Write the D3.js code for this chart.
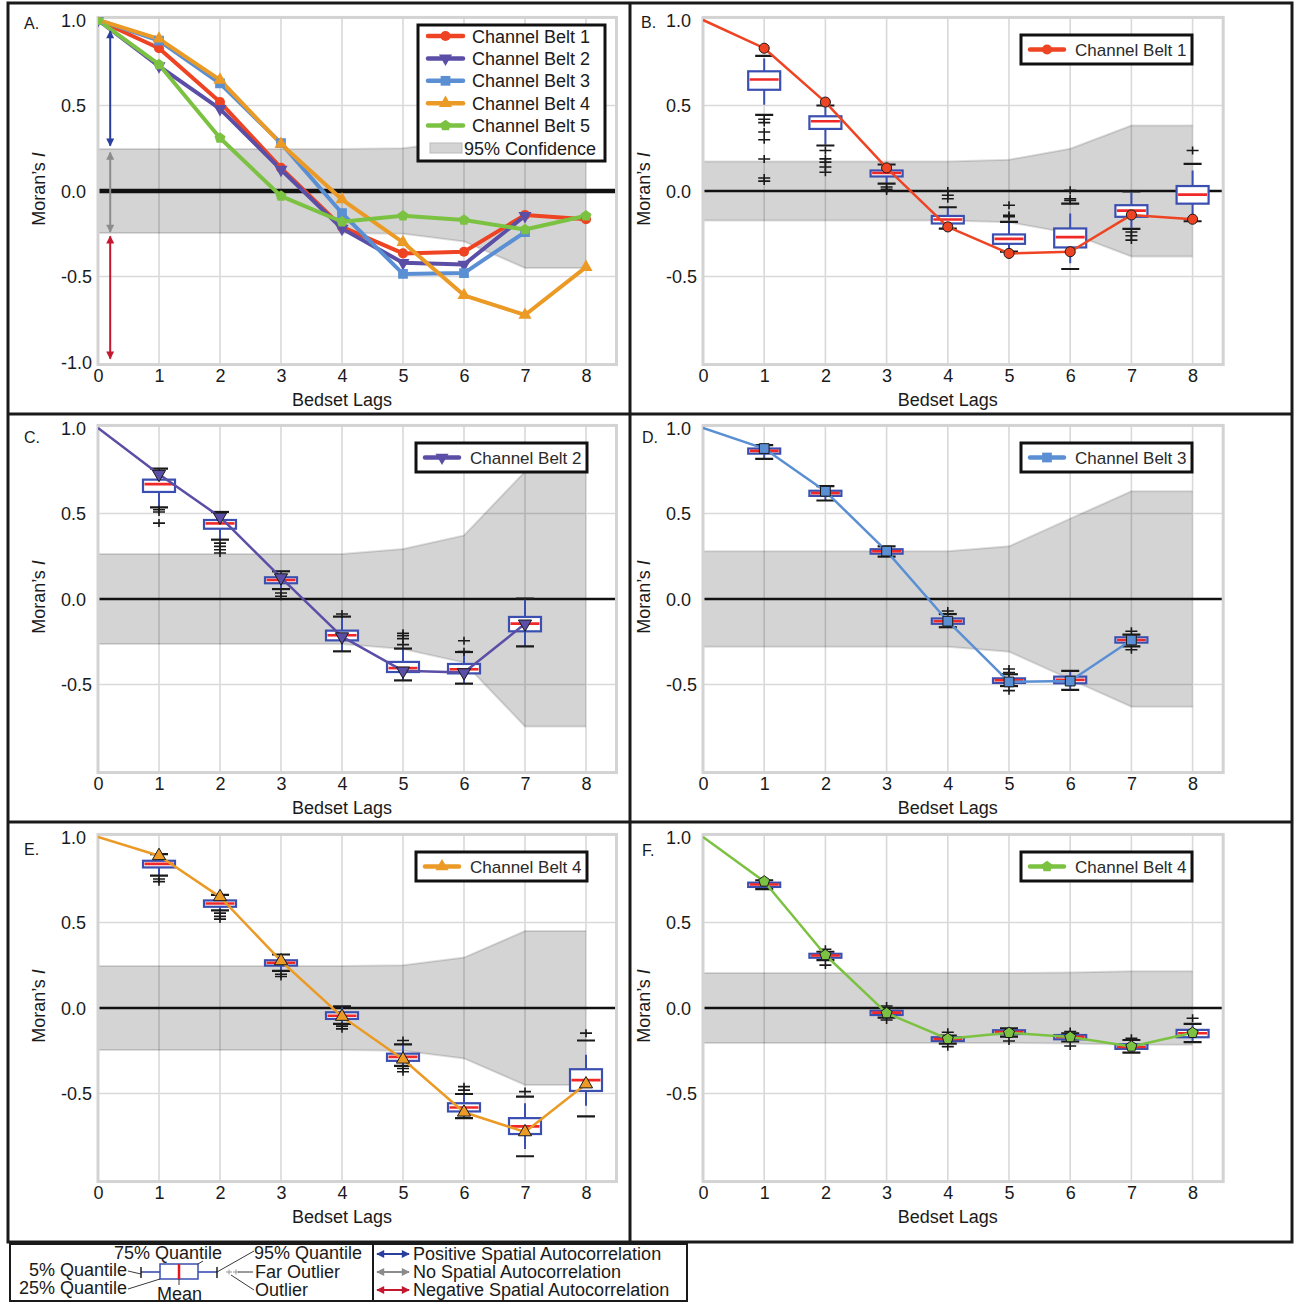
<!DOCTYPE html>
<html>
<head>
<meta charset="utf-8">
<script src="https://cdn.jsdelivr.net/npm/d3@7"></script>
<style>
  body { margin: 0; background: #fff; }
  svg text { font-family: "Liberation Sans", Arial, Helvetica, sans-serif; fill: #1a1a1a; }
</style>
</head>
<body>
<svg id="fig" width="1295" height="1303"></svg>
<script>
// ---- data ----
const lagTicks = [0, 1, 2, 3, 4, 5, 6, 7, 8];
const yTicksA = [1.0, 0.5, 0.0, -0.5, -1.0];
const yTicks = [1.0, 0.5, 0.0, -0.5];

const beltNames = ["Channel Belt 1", "Channel Belt 2", "Channel Belt 3", "Channel Belt 4", "Channel Belt 5"];
const beltColors = ["#ee4423", "#5b4ea6", "#5b8fd3", "#eb9a26", "#7cc242"];

// Moran's I per lag (lag 0 .. last lag)
const cb1 = [1.0, 0.835, 0.52, 0.135, -0.21, -0.365, -0.355, -0.14, -0.165];
const cb2 = [1.0, 0.73, 0.48, 0.125, -0.22, -0.42, -0.43, -0.145];
const cb3 = [1.0, 0.88, 0.63, 0.28, -0.13, -0.485, -0.48, -0.24];
const cb4 = [1.0, 0.89, 0.65, 0.275, -0.05, -0.30, -0.61, -0.725, -0.445];
const cb5 = [1.0, 0.74, 0.31, -0.03, -0.18, -0.145, -0.17, -0.225, -0.145];
const belts = [cb1, cb2, cb3, cb4, cb5];

// 95% confidence half-width per lag 0..8
const conf1 = [0.173, 0.173, 0.173, 0.173, 0.173, 0.183, 0.247, 0.383, 0.383];
const conf2 = [0.263, 0.263, 0.263, 0.263, 0.263, 0.292, 0.372, 0.745, 0.745];
const conf3 = [0.279, 0.279, 0.279, 0.279, 0.279, 0.308, 0.47, 0.63, 0.63];
const conf4 = [0.245, 0.245, 0.245, 0.245, 0.245, 0.25, 0.295, 0.45, 0.45];
const conf5 = [0.205, 0.205, 0.205, 0.205, 0.205, 0.205, 0.207, 0.215, 0.215];

// box stats per lag from 1: [cap 5%, whisker lo, q25, mean, q75, whisker hi, cap 95%]
const box1 = [
  [0.445, 0.505, 0.592, 0.652, 0.70, 0.775, 0.79],
  [0.266, 0.27, 0.363, 0.408, 0.437, 0.49, 0.50],
  [0.043, 0.045, 0.085, 0.105, 0.12, 0.15, 0.155],
  [-0.22, -0.215, -0.19, -0.167, -0.146, -0.10, -0.095],
  [-0.355, -0.35, -0.309, -0.28, -0.254, -0.185, -0.18],
  [-0.456, -0.423, -0.33, -0.27, -0.219, -0.132, -0.074],
  [-0.222, -0.215, -0.151, -0.115, -0.083, -0.01, -0.002],
  [-0.177, -0.175, -0.074, -0.021, 0.029, 0.12, 0.159]
];
const out1 = [[0.42, 0.40, 0.345, 0.30, 0.187, 0.076, 0.058], [0.237, 0.188, 0.169, 0.14, 0.11],
  [0.023, 0.01, 0.0], [0.0, -0.025, -0.045], [-0.083, -0.142, -0.15], [0.004, -0.045, -0.055],
  [-0.24, -0.262, -0.287], [0.237]];

const box2 = [
  [0.536, 0.536, 0.626, 0.672, 0.698, 0.762, 0.762],
  [0.347, 0.347, 0.411, 0.442, 0.462, 0.509, 0.509],
  [0.058, 0.058, 0.092, 0.111, 0.127, 0.162, 0.162],
  [-0.306, -0.306, -0.242, -0.212, -0.185, -0.103, -0.103],
  [-0.476, -0.476, -0.427, -0.404, -0.368, -0.29, -0.29],
  [-0.495, -0.495, -0.435, -0.411, -0.38, -0.31, -0.31],
  [-0.277, -0.277, -0.189, -0.144, -0.105, 0.002, 0.002]
];
const out2 = [[0.522, 0.509, 0.444], [0.327, 0.308, 0.288, 0.269], [0.035, 0.016], [-0.088],
  [-0.2, -0.214, -0.232, -0.267], [-0.244, -0.308], []];

const box3 = [
  [0.82, 0.82, 0.85, 0.866, 0.88, 0.90, 0.90],
  [0.576, 0.576, 0.603, 0.619, 0.633, 0.66, 0.66],
  [0.248, 0.248, 0.265, 0.279, 0.291, 0.308, 0.308],
  [-0.165, -0.165, -0.145, -0.13, -0.114, -0.088, -0.088],
  [-0.509, -0.509, -0.491, -0.475, -0.464, -0.44, -0.44],
  [-0.532, -0.532, -0.493, -0.473, -0.454, -0.42, -0.42],
  [-0.277, -0.277, -0.255, -0.24, -0.224, -0.208, -0.208]
];
const out3 = [[], [], [], [-0.07], [-0.409, -0.43, -0.536], [], [-0.189, -0.297]];

const box4 = [
  [0.774, 0.774, 0.822, 0.843, 0.861, 0.9, 0.9],
  [0.571, 0.571, 0.592, 0.611, 0.629, 0.661, 0.661],
  [0.217, 0.217, 0.248, 0.265, 0.279, 0.313, 0.313],
  [-0.093, -0.093, -0.064, -0.045, -0.025, 0.01, 0.01],
  [-0.339, -0.339, -0.309, -0.286, -0.267, -0.213, -0.213],
  [-0.644, -0.644, -0.605, -0.582, -0.557, -0.503, -0.503],
  [-0.867, -0.824, -0.737, -0.692, -0.644, -0.557, -0.518],
  [-0.634, -0.571, -0.485, -0.422, -0.358, -0.273, -0.19]
];
const out4 = [[0.754, 0.739], [0.555, 0.536, 0.52], [0.197, 0.184], [-0.106, -0.122],
  [-0.19, -0.354, -0.373], [-0.46, -0.48], [-0.489], [-0.147]];

const box5 = [
  [0.695, 0.695, 0.708, 0.722, 0.733, 0.747, 0.747],
  [0.28, 0.28, 0.294, 0.307, 0.317, 0.329, 0.329],
  [-0.056, -0.056, -0.041, -0.027, -0.016, 0.0, 0.0],
  [-0.208, -0.208, -0.193, -0.181, -0.171, -0.161, -0.161],
  [-0.167, -0.167, -0.152, -0.14, -0.13, -0.119, -0.119],
  [-0.196, -0.196, -0.183, -0.169, -0.158, -0.148, -0.148],
  [-0.261, -0.261, -0.239, -0.228, -0.212, -0.187, -0.187],
  [-0.2, -0.2, -0.171, -0.148, -0.128, -0.093, -0.093]
];
const out5 = [[], [0.344, 0.251], [0.012, -0.07], [-0.142, -0.226], [-0.193], [-0.138, -0.222], [-0.177], [-0.06]];

// ---- layout ----
const svg = d3.select("#fig");
const defs = svg.append("defs");

const symbolPentagon = {
  draw(ctx, size) {
    const r = Math.sqrt(size / 2.378);
    for (let i = 0; i < 5; i++) {
      const a = -Math.PI / 2 + i * 2 * Math.PI / 5;
      if (i) ctx.lineTo(r * Math.cos(a), r * Math.sin(a));
      else ctx.moveTo(r * Math.cos(a), r * Math.sin(a));
    }
    ctx.closePath();
  }
};
const symbolTypes = [d3.symbolCircle, d3.symbolTriangle, d3.symbolSquare, d3.symbolTriangle, symbolPentagon];
const symbolSizes = [80, 75, 95, 75, 80];
const symbolRotate = [0, 180, 0, 0, 0];

function markerPath(si) {
  return d3.symbol().type(symbolTypes[si]).size(symbolSizes[si])();
}

const panels = [
  {id: "A", x0: 98, yTop: 20, step: 61, conf: conf4, series: [0, 1, 2, 3, 4], yTicks: yTicksA, letter: [24, 29], multi: true},
  {id: "B", x0: 703, yTop: 20, step: 61.2, conf: conf1, series: [0], box: box1, out: out1, yTicks: yTicks, letter: [641, 28], label: "Channel Belt 1"},
  {id: "C", x0: 98, yTop: 428, step: 61, conf: conf2, series: [1], box: box2, out: out2, yTicks: yTicks, letter: [24, 443], label: "Channel Belt 2"},
  {id: "D", x0: 703, yTop: 428, step: 61.2, conf: conf3, series: [2], box: box3, out: out3, yTicks: yTicks, letter: [642, 443], label: "Channel Belt 3"},
  {id: "E", x0: 98, yTop: 837, step: 61, conf: conf4, series: [3], box: box4, out: out4, yTicks: yTicks, letter: [24, 855], label: "Channel Belt 4"},
  {id: "F", x0: 703, yTop: 837, step: 61.2, conf: conf5, series: [4], box: box5, out: out5, yTicks: yTicks, letter: [642, 856], label: "Channel Belt 4"}
];

// arrowheads
[["blue", "#2a3f9d"], ["gray", "#8c8c8c"], ["red", "#c4182f"]].forEach(([n, c]) => {
  defs.append("marker").attr("id", "ah-" + n)
    .attr("viewBox", "0 0 10 10").attr("refX", 9).attr("refY", 5)
    .attr("markerWidth", 9).attr("markerHeight", 8).attr("markerUnits", "userSpaceOnUse")
    .attr("orient", "auto-start-reverse")
    .append("path").attr("d", "M0,0 L10,5 L0,10 z").attr("fill", c);
});

function drawPanel(p) {
  const x = d3.scaleLinear().domain([0, 8.5]).range([p.x0, p.x0 + 8.5 * p.step]);
  const y = d3.scaleLinear().domain([1, -1]).range([p.yTop, p.yTop + 342]);
  const left = x(0), right = x(8.5), top = y(1.015), bottom = y(-1.015);
  const g = svg.append("g").attr("class", "panel");

  defs.append("clipPath").attr("id", "clip" + p.id).append("rect")
    .attr("x", left).attr("y", top).attr("width", right - left).attr("height", bottom - top);

  // grid
  g.append("g").selectAll("line").data(lagTicks.slice(1)).join("line")
    .attr("x1", d => x(d)).attr("x2", d => x(d)).attr("y1", top).attr("y2", bottom)
    .attr("stroke", "#d9d9d9").attr("stroke-width", 1.6);
  g.append("g").selectAll("line").data([0.5, -0.5]).join("line")
    .attr("x1", left).attr("x2", right).attr("y1", d => y(d)).attr("y2", d => y(d))
    .attr("stroke", "#d9d9d9").attr("stroke-width", 1.6);

  // confidence band
  g.append("path").datum(p.conf)
    .attr("d", d3.area().x((d, i) => x(i)).y0(d => y(-d)).y1(d => y(d)))
    .attr("fill", "#000").attr("fill-opacity", 0.17);
  [1, -1].forEach(sgn => {
    g.append("path").datum(p.conf)
      .attr("d", d3.line().x((d, i) => x(i)).y(d => y(sgn * d)))
      .attr("fill", "none").attr("stroke", "#000").attr("stroke-opacity", 0.13).attr("stroke-width", 2);
  });

  // zero line
  g.append("line").attr("x1", left).attr("x2", right).attr("y1", y(0)).attr("y2", y(0))
    .attr("stroke", "#111").attr("stroke-width", p.multi ? 4.5 : 2.5);

  // frame
  g.append("rect").attr("x", left).attr("y", top).attr("width", right - left).attr("height", bottom - top)
    .attr("fill", "none").attr("stroke", "#d3d3d3").attr("stroke-width", 3);

  const content = g.append("g").attr("clip-path", `url(#clip${p.id})`);

  // box plots
  if (p.box) {
    const bw = 16, cw = 9;
    const bg = content.append("g");
    const stats = p.box.map((s, k) => ({lag: k + 1, s: s}));
    const blue = "#3a4fb0";
    bg.selectAll("line.wlo").data(stats).join("line").attr("class", "wlo")
      .attr("x1", d => x(d.lag)).attr("x2", d => x(d.lag))
      .attr("y1", d => y(d.s[2])).attr("y2", d => y(d.s[1]))
      .attr("stroke", blue).attr("stroke-width", 2);
    bg.selectAll("line.whi").data(stats).join("line").attr("class", "whi")
      .attr("x1", d => x(d.lag)).attr("x2", d => x(d.lag))
      .attr("y1", d => y(d.s[4])).attr("y2", d => y(d.s[5]))
      .attr("stroke", blue).attr("stroke-width", 2);
    bg.selectAll("line.clo").data(stats).join("line").attr("class", "clo")
      .attr("x1", d => x(d.lag) - cw).attr("x2", d => x(d.lag) + cw)
      .attr("y1", d => y(d.s[0])).attr("y2", d => y(d.s[0]))
      .attr("stroke", "#1a1a1a").attr("stroke-width", 2.2);
    bg.selectAll("line.chi").data(stats).join("line").attr("class", "chi")
      .attr("x1", d => x(d.lag) - cw).attr("x2", d => x(d.lag) + cw)
      .attr("y1", d => y(d.s[6])).attr("y2", d => y(d.s[6]))
      .attr("stroke", "#1a1a1a").attr("stroke-width", 2.2);
    const outs = [];
    p.out.forEach((arr, k) => arr.forEach(v => outs.push({lag: k + 1, v: v})));
    bg.selectAll("path.out").data(outs).join("path").attr("class", "out")
      .attr("d", d => `M${x(d.lag) - 6},${y(d.v)}h12M${x(d.lag)},${y(d.v) - 4}v8`)
      .attr("stroke", "#1a1a1a").attr("stroke-width", 1.6).attr("fill", "none");
    bg.selectAll("rect.box").data(stats).join("rect").attr("class", "box")
      .attr("x", d => x(d.lag) - bw).attr("width", 2 * bw)
      .attr("y", d => y(d.s[4])).attr("height", d => Math.max(1, y(d.s[2]) - y(d.s[4])))
      .attr("fill", "#fff").attr("stroke", blue).attr("stroke-width", 2.2);
    bg.selectAll("line.mean").data(stats).join("line").attr("class", "mean")
      .attr("x1", d => x(d.lag) - bw + 1.5).attr("x2", d => x(d.lag) + bw - 1.5)
      .attr("y1", d => y(d.s[3])).attr("y2", d => y(d.s[3]))
      .attr("stroke", "#f02828").attr("stroke-width", 2.6);
  }

  // series
  p.series.forEach(si => {
    const vals = belts[si];
    content.append("path").datum(vals)
      .attr("d", d3.line().x((d, i) => x(i)).y(d => y(d)))
      .attr("fill", "none").attr("stroke", beltColors[si])
      .attr("stroke-width", p.multi ? 4 : 2.5).attr("stroke-linejoin", "round");
  });
  p.series.forEach(si => {
    const pts = belts[si].map((v, i) => ({lag: i, v: v})).filter(d => p.multi || d.lag > 0);
    content.append("g").selectAll("path").data(pts).join("path")
      .attr("d", markerPath(si))
      .attr("transform", d => `translate(${x(d.lag)},${y(d.v)}) rotate(${symbolRotate[si]})`)
      .attr("fill", beltColors[si])
      .attr("stroke", p.multi ? "none" : "#1a1a1a").attr("stroke-width", 1);
  });

  // axes
  const ya = g.append("g").attr("transform", `translate(${left},0)`)
    .call(d3.axisLeft(y).tickValues(p.yTicks).tickSize(0).tickFormat(d => d.toFixed(1)));
  ya.select(".domain").remove();
  ya.attr("font-family", null).attr("font-size", null);
  ya.selectAll("text").attr("x", -37).attr("text-anchor", "start").attr("dy", "0.36em")
    .style("font-size", "18px");

  const xa = g.append("g").attr("transform", `translate(0,${bottom})`)
    .call(d3.axisBottom(x).tickValues(lagTicks).tickSize(0).tickPadding(5));
  xa.select(".domain").remove();
  xa.attr("font-family", null).attr("font-size", null);
  xa.selectAll("text").style("font-size", "18px");

  g.append("text").attr("x", x(4)).attr("y", p.yTop + 386).attr("text-anchor", "middle")
    .style("font-size", "18px").text("Bedset Lags");

  const yl = g.append("text")
    .attr("transform", `translate(${p.x0 - 53},${y(0) - 2}) rotate(-90)`)
    .attr("text-anchor", "middle").style("font-size", "18px");
  yl.append("tspan").text("Moran\u2019s ");
  yl.append("tspan").attr("font-style", "italic").text("I");

  g.append("text").attr("x", p.letter[0]).attr("y", p.letter[1])
    .style("font-size", "16px").text(p.id + ".");

  // legends
  if (p.multi) {
    const lg = g.append("g");
    lg.append("rect").attr("x", 418).attr("y", 25).attr("width", 187).attr("height", 136)
      .attr("fill", "#fff").attr("stroke", "#111").attr("stroke-width", 3);
    const rows = p.series.map((si, k) => ({si: si, cy: 36 + k * 22.4}));
    lg.selectAll("line.ls").data(rows).join("line").attr("class", "ls")
      .attr("x1", 428).attr("x2", 463).attr("y1", d => d.cy).attr("y2", d => d.cy)
      .attr("stroke", d => beltColors[d.si]).attr("stroke-width", 4.5).attr("stroke-linecap", "round");
    lg.selectAll("path.lm").data(rows).join("path").attr("class", "lm")
      .attr("d", d => markerPath(d.si))
      .attr("transform", d => `translate(445.5,${d.cy}) rotate(${symbolRotate[d.si]})`)
      .attr("fill", d => beltColors[d.si]);
    lg.selectAll("text.lt").data(rows).join("text").attr("class", "lt")
      .attr("x", 472).attr("y", d => d.cy + 6.5).style("font-size", "18px")
      .text(d => beltNames[d.si]);
    const cy = 36 + 5 * 22.4;
    lg.append("rect").attr("x", 430).attr("y", cy - 5).attr("width", 32).attr("height", 10)
      .attr("fill", "#d4d4d4").attr("stroke", "#bbb").attr("stroke-width", 1);
    lg.append("text").attr("x", 464).attr("y", cy + 6.5).style("font-size", "18px").text("95% Confidence");

    // autocorrelation arrows
    const arrowsA = [
      {hi: 0.935, lo: 0.265, id: "blue", color: "#2a3f9d"},
      {hi: 0.225, lo: -0.24, id: "gray", color: "#8c8c8c"},
      {hi: -0.265, lo: -0.98, id: "red", color: "#c4182f"}
    ];
    g.selectAll("line.arr").data(arrowsA).join("line").attr("class", "arr")
      .attr("x1", x(0.2)).attr("x2", x(0.2)).attr("y1", d => y(d.hi)).attr("y2", d => y(d.lo))
      .attr("stroke", d => d.color).attr("stroke-width", 2)
      .attr("marker-start", d => `url(#ah-${d.id})`).attr("marker-end", d => `url(#ah-${d.id})`);
  } else {
    const lx = p.x0 + 318, ly = p.yTop + 15;
    const si = p.series[0];
    g.append("rect").attr("x", lx).attr("y", ly).attr("width", 171).attr("height", 29)
      .attr("fill", "#fff").attr("stroke", "#111").attr("stroke-width", 3);
    g.append("line").attr("x1", lx + 9).attr("x2", lx + 43).attr("y1", ly + 14.5).attr("y2", ly + 14.5)
      .attr("stroke", beltColors[si]).attr("stroke-width", 4.5).attr("stroke-linecap", "round");
    g.append("path").attr("d", markerPath(si))
      .attr("transform", `translate(${lx + 26},${ly + 14.5}) rotate(${symbolRotate[si]})`)
      .attr("fill", beltColors[si]);
    g.append("text").attr("x", lx + 54).attr("y", ly + 20.5).style("font-size", "17px")
      .style("fill", "#2a2a2a").text(p.label);
  }
}

panels.forEach(drawPanel);

// ---- figure frame ----
const frame = svg.append("g").attr("fill", "none").attr("stroke", "#1a1a1a").attr("stroke-width", 3);
frame.append("rect").attr("x", 8).attr("y", 3).attr("width", 1284).attr("height", 1239);
frame.append("line").attr("x1", 630).attr("x2", 630).attr("y1", 3).attr("y2", 1242);
frame.append("line").attr("x1", 8).attr("x2", 1292).attr("y1", 414).attr("y2", 414);
frame.append("line").attr("x1", 8).attr("x2", 1292).attr("y1", 822).attr("y2", 822);
frame.append("rect").attr("x", 10).attr("y", 1244).attr("width", 363).attr("height", 57).attr("stroke-width", 2);
frame.append("rect").attr("x", 373).attr("y", 1244).attr("width", 314).attr("height", 57).attr("stroke-width", 2);

// ---- box-plot key ----
const key = svg.append("g");
const kb = "#3a4fb0";
key.append("line").attr("x1", 141).attr("x2", 160).attr("y1", 1272).attr("y2", 1272).attr("stroke", kb).attr("stroke-width", 1.6);
key.append("line").attr("x1", 198).attr("x2", 217).attr("y1", 1272).attr("y2", 1272).attr("stroke", kb).attr("stroke-width", 1.6);
key.append("rect").attr("x", 160).attr("y", 1264).attr("width", 38).attr("height", 15)
  .attr("fill", "#fff").attr("stroke", kb).attr("stroke-width", 1.5);
key.append("line").attr("x1", 179).attr("x2", 179).attr("y1", 1264).attr("y2", 1279).attr("stroke", "#e8161c").attr("stroke-width", 2.5);
[141, 217].forEach(cx => key.append("line").attr("x1", cx).attr("x2", cx).attr("y1", 1267).attr("y2", 1278)
  .attr("stroke", "#111").attr("stroke-width", 1.4));
[229, 236].forEach(cx => key.append("path").attr("d", `M${cx - 3},1272h6M${cx},1269.5v5`)
  .attr("stroke", "#999").attr("stroke-width", 1));
const leaders = [
  [128, 1271, 141, 1274], [128, 1289, 160, 1279], [203, 1261, 198, 1264], [179, 1285, 179, 1279],
  [254, 1251, 217, 1272], [253, 1272, 238, 1272], [254, 1290, 231, 1275]
];
key.selectAll("line.ld").data(leaders).join("line").attr("class", "ld")
  .attr("x1", d => d[0]).attr("y1", d => d[1]).attr("x2", d => d[2]).attr("y2", d => d[3])
  .attr("stroke", "#222").attr("stroke-width", 0.9);
const keyText = [
  {t: "75% Quantile", x: 114, y: 1259, a: "start"},
  {t: "5% Quantile", x: 127, y: 1276, a: "end"},
  {t: "25% Quantile", x: 127, y: 1294, a: "end"},
  {t: "Mean", x: 157, y: 1300, a: "start"},
  {t: "95% Quantile", x: 254, y: 1259, a: "start"},
  {t: "Far Outlier", x: 255, y: 1278, a: "start"},
  {t: "Outlier", x: 255, y: 1296, a: "start"}
];
key.selectAll("text").data(keyText).join("text")
  .attr("x", d => d.x).attr("y", d => d.y).attr("text-anchor", d => d.a)
  .style("font-size", "18px").text(d => d.t);

// ---- arrow key ----
const arrowKey = [
  {t: "Positive Spatial Autocorrelation", id: "blue", color: "#2a3f9d", y: 1254},
  {t: "No Spatial Autocorrelation", id: "gray", color: "#8c8c8c", y: 1272},
  {t: "Negative Spatial Autocorrelation", id: "red", color: "#c4182f", y: 1290}
];
const ak = svg.append("g");
ak.selectAll("line").data(arrowKey).join("line")
  .attr("x1", 377).attr("x2", 409).attr("y1", d => d.y).attr("y2", d => d.y)
  .attr("stroke", d => d.color).attr("stroke-width", 2)
  .attr("marker-start", d => `url(#ah-${d.id})`).attr("marker-end", d => `url(#ah-${d.id})`);
ak.selectAll("text").data(arrowKey).join("text")
  .attr("x", 413).attr("y", d => d.y + 6).style("font-size", "18px").text(d => d.t);
</script>
</body>
</html>
